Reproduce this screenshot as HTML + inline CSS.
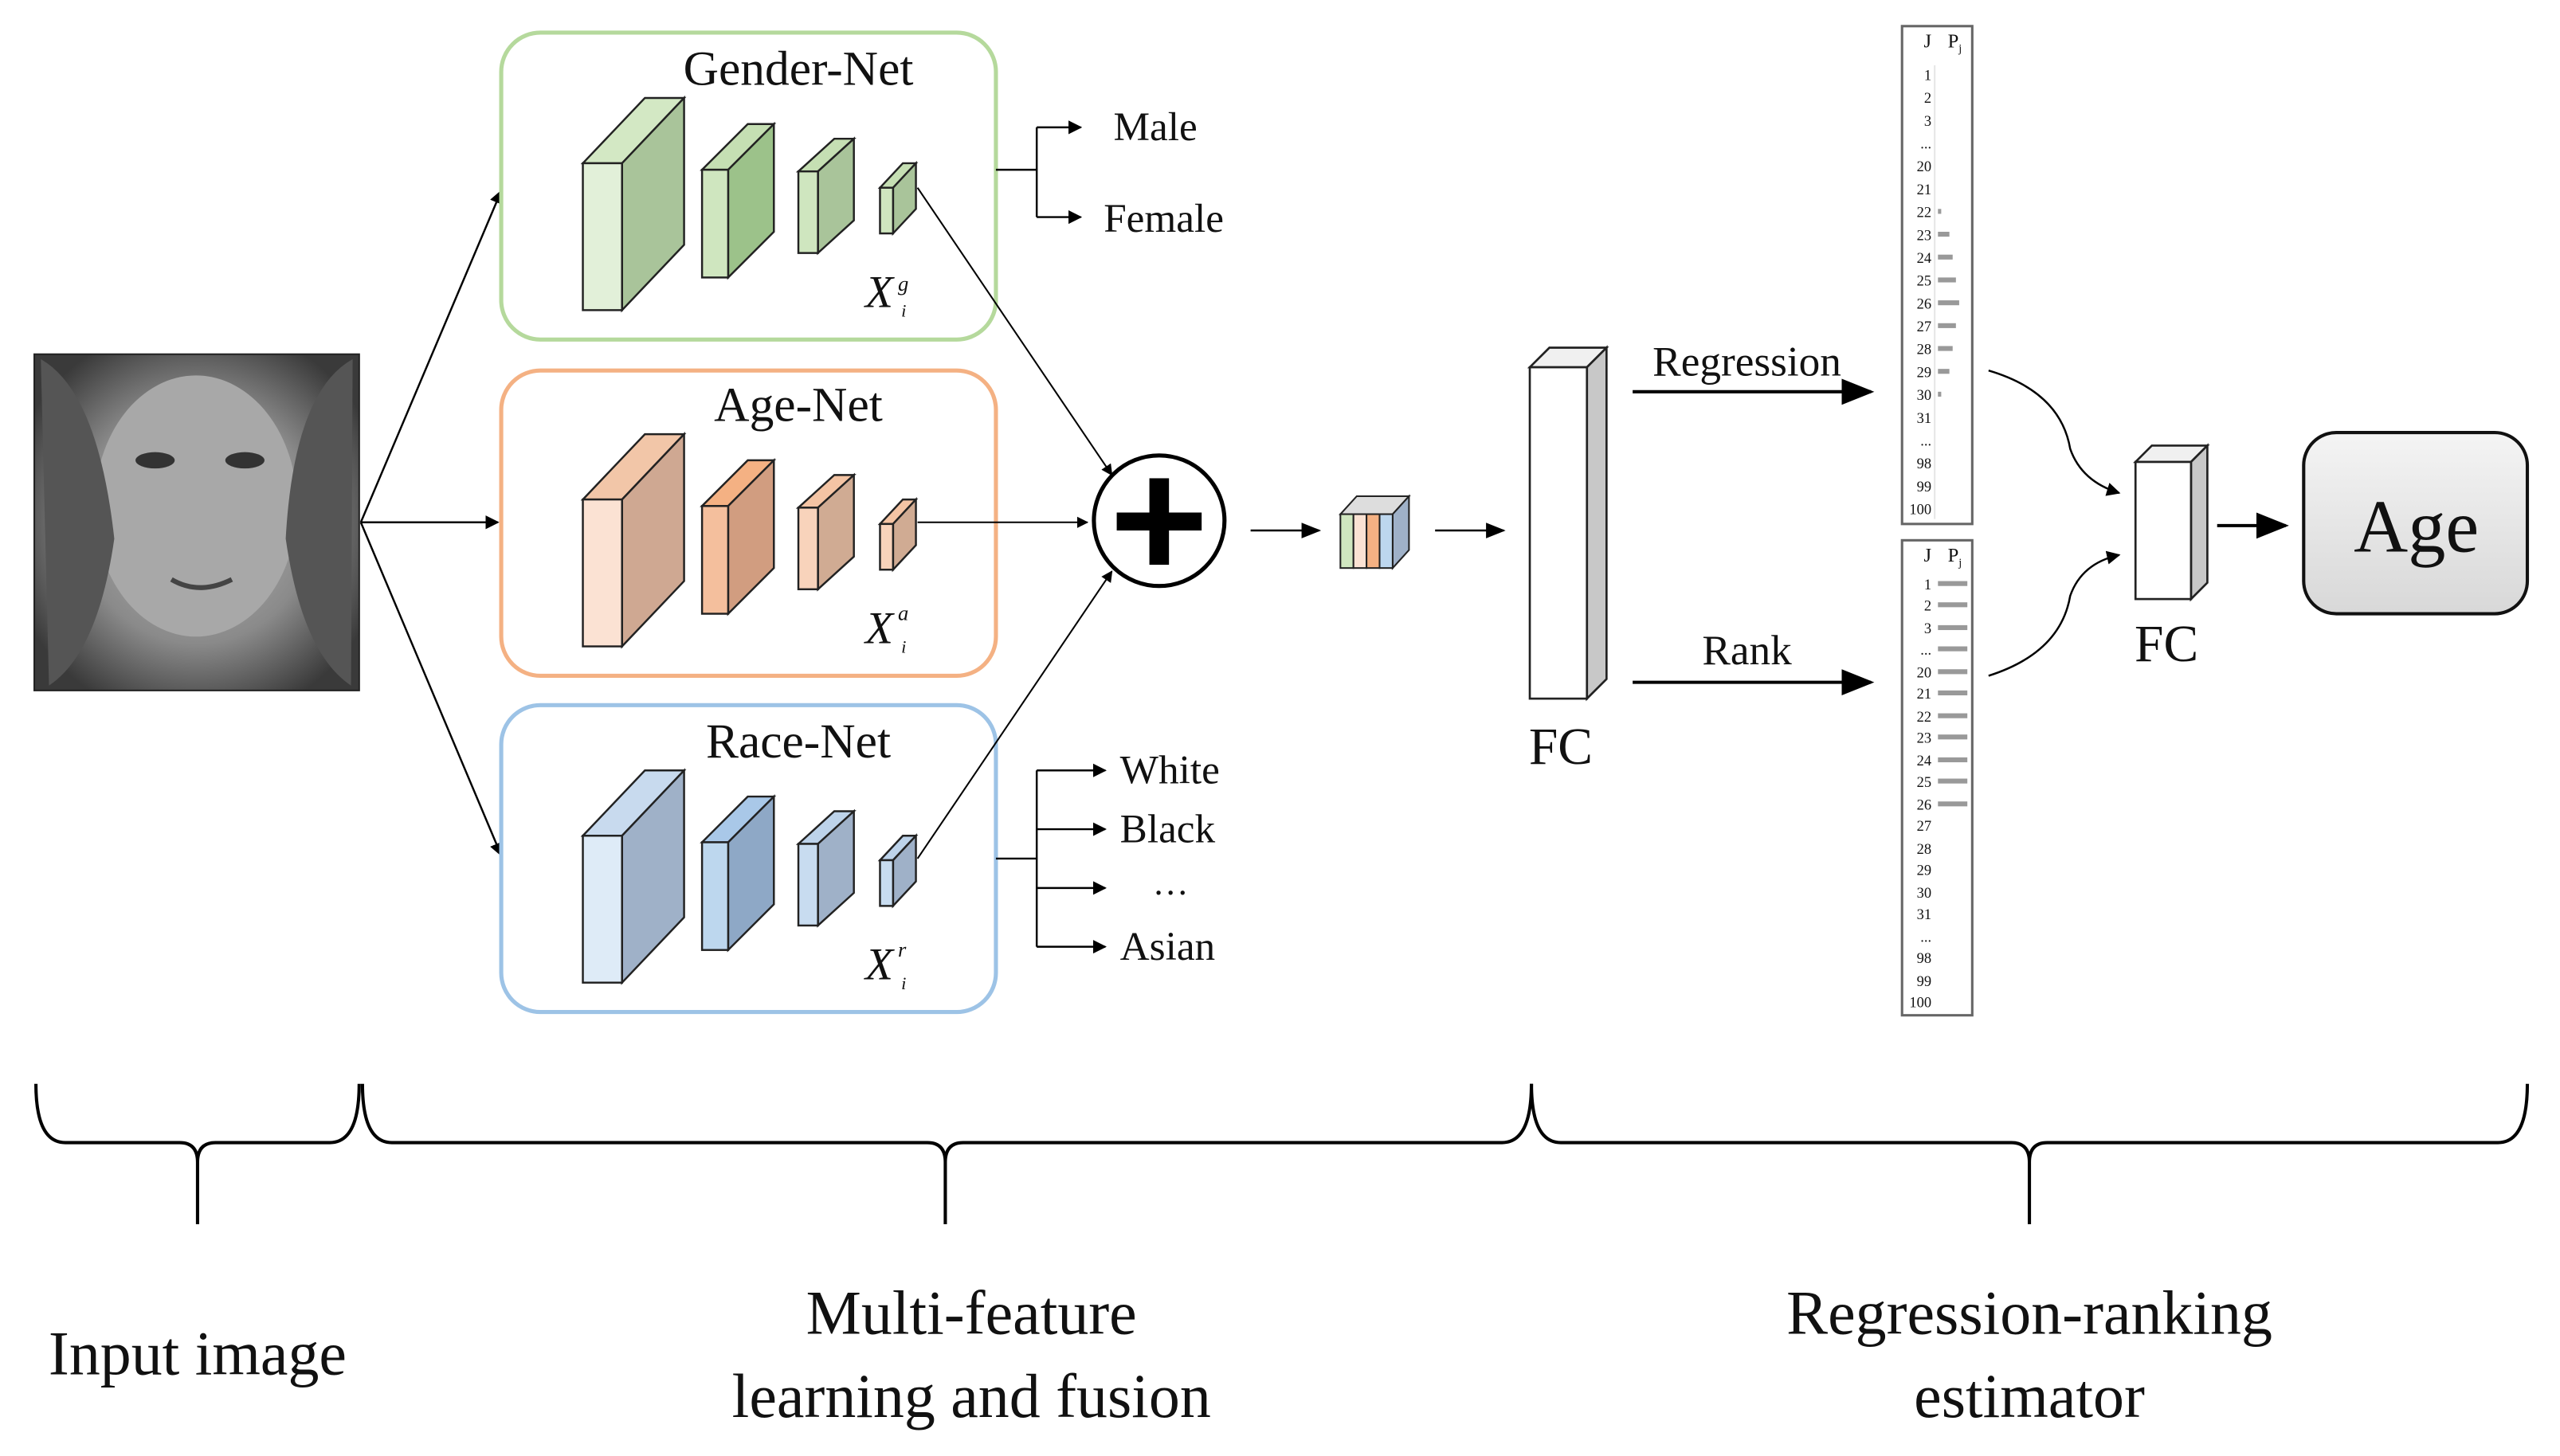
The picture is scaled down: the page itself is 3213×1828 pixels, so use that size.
<!DOCTYPE html>
<html><head><meta charset="utf-8"><style>
html,body{margin:0;padding:0;background:#fff;}
svg{display:block;}
text{font-family:"Liberation Serif",serif;fill:#111;}
</style></head><body>
<svg width="3213" height="1828" viewBox="0 0 1568 892" preserveAspectRatio="none" xmlns="http://www.w3.org/2000/svg">
<defs>
<marker id="ar" viewBox="0 0 10 10" refX="9" refY="5" markerWidth="7" markerHeight="7" orient="auto-start-reverse"><path d="M0,0L10,5L0,10z" fill="#000"/></marker>
<marker id="as" viewBox="0 0 10 10" refX="9" refY="5" markerWidth="10" markerHeight="10" orient="auto"><path d="M0,1L10,5L0,9z" fill="#000"/></marker>
<radialGradient id="face" cx="50%" cy="50%" r="60%"><stop offset="0" stop-color="#b8b8b8"/><stop offset="0.6" stop-color="#8a8a8a"/><stop offset="1" stop-color="#3a3a3a"/></radialGradient>
<linearGradient id="agebox" x1="0" y1="0" x2="0" y2="1"><stop offset="0" stop-color="#f4f4f4"/><stop offset="1" stop-color="#d8d8d8"/></linearGradient>
</defs>

<rect x="21" y="217" width="199" height="206" fill="url(#face)" stroke="#222"/>
<ellipse cx="120" cy="310" rx="62" ry="80" fill="#a8a8a8"/>
<path d="M25 220 Q60 240 70 330 Q60 400 30 420 Z" fill="#555"/>
<path d="M216 220 Q180 240 175 330 Q185 400 215 420 Z" fill="#555"/>
<ellipse cx="95" cy="282" rx="12" ry="5" fill="#333"/><ellipse cx="150" cy="282" rx="12" ry="5" fill="#333"/>
<path d="M105 355 Q122 365 142 355" stroke="#444" stroke-width="3" fill="none"/>

<g stroke="#000" stroke-width="1.2" fill="none">
<line x1="221" y1="320" x2="307" y2="117" marker-end="url(#ar)"/>
<line x1="221" y1="320" x2="305" y2="320" marker-end="url(#ar)"/>
<line x1="221" y1="320" x2="307" y2="524" marker-end="url(#ar)"/>
</g>

<rect x="307" y="20" width="303" height="188" rx="24" fill="none" stroke="#b5d99c" stroke-width="2.5"/>
<rect x="307" y="227" width="303" height="187" rx="24" fill="none" stroke="#f4b183" stroke-width="2.5"/>
<rect x="307" y="432" width="303" height="188" rx="24" fill="none" stroke="#9dc3e6" stroke-width="2.5"/>
<text x="489" y="52" font-size="30" text-anchor="middle">Gender-Net</text>
<text x="489" y="258" font-size="30" text-anchor="middle">Age-Net</text>
<text x="489" y="464" font-size="30" text-anchor="middle">Race-Net</text>

<g stroke="#222" stroke-width="1.2">
<g>
<path d="M357 100 L395 60 L419 60 L381 100Z" fill="#d3e8c4"/><path d="M381 100 L419 60 L419 150 L381 190Z" fill="#a9c49a"/><rect x="357" y="100" width="24" height="90" fill="#e2f0d9"/>
<path d="M430 104 L458 76 L474 76 L446 104Z" fill="#c5dfb3"/><path d="M446 104 L474 76 L474 142 L446 170Z" fill="#9cc28a"/><rect x="430" y="104" width="16" height="66" fill="#cfe6bf"/>
<path d="M489 105 L511 85 L523 85 L501 105Z" fill="#c5dfb3"/><path d="M501 105 L523 85 L523 135 L501 155Z" fill="#a9c49a"/><rect x="489" y="105" width="12" height="50" fill="#cfe6bf"/>
<path d="M539 115 L553 100 L561 100 L547 115Z" fill="#c5dfb3"/><path d="M547 115 L561 100 L561 128 L547 143Z" fill="#a9c49a"/><rect x="539" y="115" width="8" height="28" fill="#cfe6bf"/>
</g>
<g transform="translate(0,206)">
<path d="M357 100 L395 60 L419 60 L381 100Z" fill="#f2c6a8"/><path d="M381 100 L419 60 L419 150 L381 190Z" fill="#cfa892"/><rect x="357" y="100" width="24" height="90" fill="#fbe2d3"/>
<path d="M430 104 L458 76 L474 76 L446 104Z" fill="#f4b183"/><path d="M446 104 L474 76 L474 142 L446 170Z" fill="#d19d80"/><rect x="430" y="104" width="16" height="66" fill="#f4bf9d"/>
<path d="M489 105 L511 85 L523 85 L501 105Z" fill="#f4c4a4"/><path d="M501 105 L523 85 L523 135 L501 155Z" fill="#d0ab93"/><rect x="489" y="105" width="12" height="50" fill="#f8d3bb"/>
<path d="M539 115 L553 100 L561 100 L547 115Z" fill="#f4c4a4"/><path d="M547 115 L561 100 L561 128 L547 143Z" fill="#d0ab93"/><rect x="539" y="115" width="8" height="28" fill="#f8d3bb"/>
</g>
<g transform="translate(0,412)">
<path d="M357 100 L395 60 L419 60 L381 100Z" fill="#c8daee"/><path d="M381 100 L419 60 L419 150 L381 190Z" fill="#9fb1c8"/><rect x="357" y="100" width="24" height="90" fill="#deebf7"/>
<path d="M430 104 L458 76 L474 76 L446 104Z" fill="#a9c8e8"/><path d="M446 104 L474 76 L474 142 L446 170Z" fill="#8ea8c6"/><rect x="430" y="104" width="16" height="66" fill="#bdd7ee"/>
<path d="M489 105 L511 85 L523 85 L501 105Z" fill="#bdd3ea"/><path d="M501 105 L523 85 L523 135 L501 155Z" fill="#9fb1c8"/><rect x="489" y="105" width="12" height="50" fill="#c8dcf0"/>
<path d="M539 115 L553 100 L561 100 L547 115Z" fill="#bdd3ea"/><path d="M547 115 L561 100 L561 128 L547 143Z" fill="#9fb1c8"/><rect x="539" y="115" width="8" height="28" fill="#c8dcf0"/>
</g>
</g>

<text x="530" y="188" font-size="28" font-style="italic">X</text><text x="550" y="178" font-size="13" font-style="italic">g</text><text x="552" y="194" font-size="11" font-style="italic">i</text>
<text x="530" y="394" font-size="28" font-style="italic">X</text><text x="550" y="380" font-size="13" font-style="italic">a</text><text x="552" y="400" font-size="11" font-style="italic">i</text>
<text x="530" y="600" font-size="28" font-style="italic">X</text><text x="550" y="586" font-size="13" font-style="italic">r</text><text x="552" y="606" font-size="11" font-style="italic">i</text>

<g stroke="#000" stroke-width="1" fill="none">
<line x1="562" y1="115" x2="681" y2="291" marker-end="url(#ar)"/>
<line x1="562" y1="320" x2="666" y2="320" marker-end="url(#ar)"/>
<line x1="562" y1="526" x2="681" y2="350" marker-end="url(#ar)"/>
</g>
<circle cx="710" cy="319" r="40" fill="#fff" stroke="#000" stroke-width="2.5"/>
<rect x="684" y="314" width="52" height="11" fill="#000"/><rect x="704" y="293" width="12" height="53" fill="#000"/>

<g stroke="#000" stroke-width="1.2" fill="none">
<line x1="610" y1="104" x2="635" y2="104"/>
<line x1="635" y1="78" x2="635" y2="133"/>
<line x1="635" y1="78" x2="662" y2="78" marker-end="url(#ar)"/>
<line x1="635" y1="133" x2="662" y2="133" marker-end="url(#ar)"/>
<line x1="610" y1="526" x2="635" y2="526"/>
<line x1="635" y1="472" x2="635" y2="580"/>
<line x1="635" y1="472" x2="677" y2="472" marker-end="url(#ar)"/>
<line x1="635" y1="508" x2="677" y2="508" marker-end="url(#ar)"/>
<line x1="635" y1="544" x2="677" y2="544" marker-end="url(#ar)"/>
<line x1="635" y1="580" x2="677" y2="580" marker-end="url(#ar)"/>
</g>
<text x="682" y="86" font-size="25">Male</text>
<text x="676" y="142" font-size="25">Female</text>
<text x="686" y="480" font-size="25">White</text>
<text x="686" y="516" font-size="25">Black</text>
<text x="706" y="548" font-size="22">…</text>
<text x="686" y="588" font-size="25">Asian</text>

<g stroke="#000" stroke-width="1.2" fill="none">
<line x1="766" y1="325" x2="808" y2="325" marker-end="url(#as)"/>
<line x1="879" y1="325" x2="921" y2="325" marker-end="url(#as)"/>
</g>
<g stroke="#222" stroke-width="1">
<path d="M821 315 L831 304 L863 304 L853 315Z" fill="#ddd"/>
<path d="M853 315 L863 304 L863 337 L853 348Z" fill="#9fb1c8"/>
<rect x="821" y="315" width="8" height="33" fill="#cfe6bf"/>
<rect x="829" y="315" width="8" height="33" fill="#fbe2d3"/>
<rect x="837" y="315" width="8" height="33" fill="#f4b183"/>
<rect x="845" y="315" width="8" height="33" fill="#bdd7ee"/>
</g>

<g stroke="#222" stroke-width="1.3">
<path d="M937 225 L949 213 L984 213 L972 225Z" fill="#f0f0f0"/>
<path d="M972 225 L984 213 L984 416 L972 428Z" fill="#c8c8c8"/>
<rect x="937" y="225" width="35" height="203" fill="#fff"/>
</g>
<text x="956" y="468" font-size="32" text-anchor="middle">FC</text>

<g stroke="#000" stroke-width="2" fill="none">
<line x1="1000" y1="240" x2="1146" y2="240" marker-end="url(#as)"/>
<line x1="1000" y1="418" x2="1146" y2="418" marker-end="url(#as)"/>
</g>
<text x="1070" y="230" font-size="26" text-anchor="middle">Regression</text>
<text x="1070" y="407" font-size="26" text-anchor="middle">Rank</text>

<rect x="1165" y="16" width="43" height="305" fill="#fff" stroke="#666" stroke-width="1.5"/>
<rect x="1165" y="331" width="43" height="291" fill="#fff" stroke="#666" stroke-width="1.5"/>
<line x1="1185" y1="40" x2="1185" y2="318" stroke="#e6e6e6"/>
<g font-size="9" fill="#888" text-anchor="end">
<text x="1183" y="29" font-size="12" fill="#444">J</text><text x="1193" y="29" font-size="12" fill="#444" text-anchor="start">P<tspan font-size="7" dy="3">j</tspan></text>
<text x="1183" y="49" fill="#888">1</text><text x="1183" y="63" fill="#888">2</text><text x="1183" y="77" fill="#888">3</text><text x="1183" y="91" fill="#888">...</text>
<text x="1183" y="105" fill="#888">20</text><text x="1183" y="119" fill="#888">21</text><text x="1183" y="133" fill="#888">22</text><text x="1183" y="147" fill="#888">23</text><text x="1183" y="161" fill="#888">24</text><text x="1183" y="175" fill="#888">25</text><text x="1183" y="189" fill="#888">26</text><text x="1183" y="203" fill="#888">27</text><text x="1183" y="217" fill="#888">28</text><text x="1183" y="231" fill="#888">29</text><text x="1183" y="245" fill="#888">30</text><text x="1183" y="259" fill="#888">31</text><text x="1183" y="273" fill="#888">...</text><text x="1183" y="287" fill="#888">98</text><text x="1183" y="301" fill="#888">99</text><text x="1183" y="315" fill="#888">100</text>
</g>
<g fill="#999">
<rect x="1187" y="128" width="2" height="3"/><rect x="1187" y="142" width="7" height="3"/><rect x="1187" y="156" width="9" height="3"/><rect x="1187" y="170" width="11" height="3"/><rect x="1187" y="184" width="13" height="3"/><rect x="1187" y="198" width="11" height="3"/><rect x="1187" y="212" width="9" height="3"/><rect x="1187" y="226" width="7" height="3"/><rect x="1187" y="240" width="2" height="3"/>
</g>
<g font-size="9" fill="#888" text-anchor="end">
<text x="1183" y="344" font-size="12" fill="#444">J</text><text x="1193" y="344" font-size="12" fill="#444" text-anchor="start">P<tspan font-size="7" dy="3">j</tspan></text>
<text x="1183" y="361" fill="#888">1</text><text x="1183" y="374" fill="#888">2</text><text x="1183" y="388" fill="#888">3</text><text x="1183" y="401" fill="#888">...</text><text x="1183" y="415" fill="#888">20</text><text x="1183" y="428" fill="#888">21</text><text x="1183" y="442" fill="#888">22</text><text x="1183" y="455" fill="#888">23</text><text x="1183" y="469" fill="#888">24</text><text x="1183" y="482" fill="#888">25</text><text x="1183" y="496" fill="#888">26</text><text x="1183" y="509" fill="#888">27</text><text x="1183" y="523" fill="#888">28</text><text x="1183" y="536" fill="#888">29</text><text x="1183" y="550" fill="#888">30</text><text x="1183" y="563" fill="#888">31</text><text x="1183" y="577" fill="#888">...</text><text x="1183" y="590" fill="#888">98</text><text x="1183" y="604" fill="#888">99</text><text x="1183" y="617" fill="#888">100</text>
</g>
<g fill="#999">
<rect x="1187" y="356" width="18" height="3"/><rect x="1187" y="369" width="18" height="3"/><rect x="1187" y="383" width="18" height="3"/><rect x="1187" y="396" width="18" height="3"/><rect x="1187" y="410" width="18" height="3"/><rect x="1187" y="423" width="18" height="3"/><rect x="1187" y="437" width="18" height="3"/><rect x="1187" y="450" width="18" height="3"/><rect x="1187" y="464" width="18" height="3"/><rect x="1187" y="477" width="18" height="3"/><rect x="1187" y="491" width="18" height="3"/>
</g>

<g stroke="#000" stroke-width="1.2" fill="none">
<path d="M1218 227 Q1262 240 1268 275 Q1275 295 1298 302" marker-end="url(#ar)"/>
<path d="M1218 414 Q1262 400 1268 365 Q1275 345 1298 340" marker-end="url(#ar)"/>
<line x1="1358" y1="322" x2="1400" y2="322" stroke-width="2" marker-end="url(#as)"/>
</g>
<g stroke="#222" stroke-width="1.3">
<path d="M1308 283 L1318 273 L1352 273 L1342 283Z" fill="#f0f0f0"/>
<path d="M1342 283 L1352 273 L1352 357 L1342 367Z" fill="#c8c8c8"/>
<rect x="1308" y="283" width="34" height="84" fill="#fff"/>
</g>
<text x="1327" y="405" font-size="32" text-anchor="middle">FC</text>
<rect x="1411" y="265" width="137" height="111" rx="20" fill="url(#agebox)" stroke="#111" stroke-width="2"/>
<text x="1480" y="338" font-size="46" text-anchor="middle">Age</text>

<g stroke="#000" stroke-width="2" fill="none">
<path d="M22 664 Q22 700 40 700 L110 700 Q121 700 121 712 L121 750 M121 712 Q121 700 132 700 L202 700 Q220 700 220 664"/>
<path d="M222 664 Q222 700 240 700 L568 700 Q579 700 579 712 L579 750 M579 712 Q579 700 590 700 L920 700 Q938 700 938 664"/>
<path d="M938 664 Q938 700 956 700 L1232 700 Q1243 700 1243 712 L1243 750 M1243 712 Q1243 700 1254 700 L1530 700 Q1548 700 1548 664"/>
</g>
<text x="121" y="842" font-size="38" text-anchor="middle">Input image</text>
<text x="595" y="817" font-size="38" text-anchor="middle">Multi-feature</text>
<text x="595" y="868" font-size="38" text-anchor="middle">learning and fusion</text>
<text x="1243" y="817" font-size="38" text-anchor="middle">Regression-ranking</text>
<text x="1243" y="868" font-size="38" text-anchor="middle">estimator</text>
</svg>
</body></html>
